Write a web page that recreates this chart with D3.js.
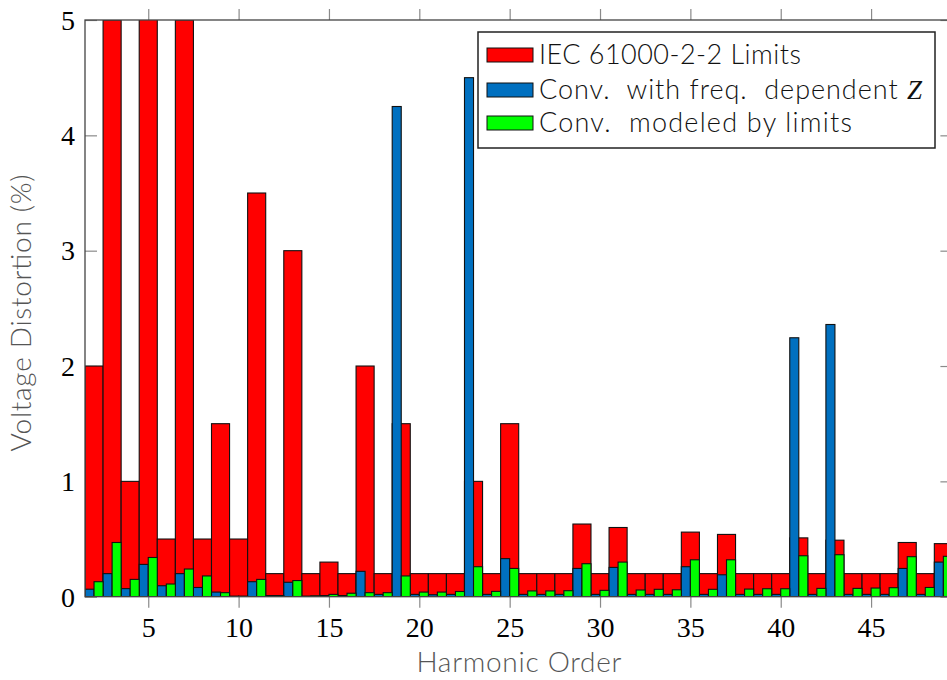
<!DOCTYPE html>
<html>
<head>
<meta charset="utf-8">
<script src="https://cdn.jsdelivr.net/npm/d3@7/dist/d3.min.js"></script>
<style>
  html, body { margin: 0; padding: 0; background: #fff; overflow: hidden; }
  svg { display: block; }
</style>
</head>
<body>
<svg id="chart" width="947" height="680"></svg>
<script>
// Harmonic orders shown on the x axis
const harmonics = [2, 3, 4, 5, 6, 7, 8, 9, 10, 11, 12, 13, 14, 15, 16, 17, 18, 19, 20, 21,
  22, 23, 24, 25, 26, 27, 28, 29, 30, 31, 32, 33, 34, 35, 36, 37, 38, 39, 40, 41,
  42, 43, 44, 45, 46, 47, 48, 49];

// IEC 61000-2-2 compatibility levels (%)
const limitValues = [2, 5, 1, 6, 0.5, 5, 0.5, 1.5, 0.5, 3.5, 0.2, 3, 0.2, 0.3, 0.2, 2, 0.2, 1.5, 0.2, 0.2,
  0.2, 1.0, 0.2, 1.5, 0.2, 0.2, 0.2, 0.63, 0.2, 0.6, 0.2, 0.2, 0.2, 0.56, 0.2, 0.54, 0.2, 0.2, 0.2, 0.51,
  0.2, 0.49, 0.2, 0.2, 0.2, 0.47, 0.2, 0.46];

// Converter with frequency-dependent impedance (%)
const freqDepValues = [0.065, 0.2, 0.07, 0.28, 0.095, 0.2, 0.08, 0.04, 0.005, 0.13, 0.01, 0.125, 0.005, 0.01, 0.01, 0.22, 0.02, 4.25, 0.02, 0.017,
  0.02, 4.5, 0.02, 0.33, 0.02, 0.02, 0.02, 0.245, 0.02, 0.254, 0.02, 0.02, 0.02, 0.26, 0.02, 0.19, 0.02, 0.02, 0.02, 2.245,
  0.02, 2.36, 0.02, 0.02, 0.02, 0.245, 0.02, 0.3];

// Converter modeled by limits (%)
const limitModelValues = [0.13, 0.47, 0.15, 0.34, 0.11, 0.24, 0.18, 0.035, 0.005, 0.15, 0.01, 0.14, 0.008, 0.02, 0.03, 0.035, 0.035, 0.18, 0.04, 0.04,
  0.045, 0.26, 0.046, 0.245, 0.05, 0.05, 0.052, 0.286, 0.055, 0.30, 0.058, 0.064, 0.06, 0.32, 0.064, 0.32, 0.066, 0.069, 0.069, 0.355,
  0.072, 0.364, 0.072, 0.075, 0.078, 0.347, 0.08, 0.35];

const xTicks = [5, 10, 15, 20, 25, 30, 35, 40, 45];
const yTicks = [0, 1, 2, 3, 4, 5];

const seriesNames = ["IEC 61000-2-2 Limits", "Conv.  with freq.  dependent ", "Conv.  modeled by limits"];
const seriesColors = ["#ff0000", "#0070c0", "#00ff00"];

const svg = d3.select("#chart");
const plotLeft = 85, plotRight = 952.4, plotTop = 20, plotBottom = 596.7;

const x = d3.scaleLinear().domain([1.5, 49.5]).range([plotLeft, plotRight]);
const y = d3.scaleLinear().domain([0, 5]).range([plotBottom, plotTop]);

svg.append("defs").append("clipPath").attr("id", "plotClip")
  .append("rect").attr("x", plotLeft).attr("y", plotTop)
  .attr("width", plotRight - plotLeft).attr("height", plotBottom - plotTop);

const tickColor = "#8a8a8a";
const axisColor = "#444";

// Outward x ticks (bottom and top)
const xBottom = svg.append("g").attr("transform", `translate(0,${plotBottom})`)
  .call(d3.axisBottom(x).tickValues(xTicks).tickSize(11).tickSizeOuter(0).tickFormat(d3.format("d")));
xBottom.select(".domain").remove();
xBottom.selectAll(".tick line").attr("stroke", tickColor).attr("stroke-width", 1.2);
xBottom.selectAll(".tick text")
  .attr("fill", "#000").attr("font-family", "'Liberation Serif', 'DejaVu Serif', serif")
  .attr("font-size", 28).attr("dy", "0").attr("y", 40);

const xTop = svg.append("g").attr("transform", `translate(0,${plotTop})`)
  .call(d3.axisTop(x).tickValues(xTicks).tickSize(11).tickSizeOuter(0).tickFormat(""));
xTop.select(".domain").remove();
xTop.selectAll(".tick line").attr("stroke", tickColor).attr("stroke-width", 1.2);

// Inward y ticks (left and right)
const yLeft = svg.append("g").attr("transform", `translate(${plotLeft},0)`)
  .call(d3.axisRight(y).tickValues(yTicks).tickSize(12).tickSizeOuter(0).tickFormat(""));
yLeft.select(".domain").remove();
yLeft.selectAll(".tick line").attr("stroke", tickColor).attr("stroke-width", 1.2);

const yRight = svg.append("g").attr("transform", `translate(${plotRight},0)`)
  .call(d3.axisLeft(y).tickValues(yTicks).tickSize(12).tickSizeOuter(0).tickFormat(""));
yRight.select(".domain").remove();
yRight.selectAll(".tick line").attr("stroke", tickColor).attr("stroke-width", 1.2);

// y tick labels
svg.append("g").selectAll("text").data(yTicks).join("text")
  .attr("x", plotLeft - 10).attr("y", d => y(d)).attr("dy", "0.35em")
  .attr("text-anchor", "end")
  .attr("font-family", "'Liberation Serif', 'DejaVu Serif', serif")
  .attr("font-size", 28).attr("fill", "#000")
  .text(d => d);

// Bars
const plot = svg.append("g").attr("clip-path", "url(#plotClip)");
const barStroke = "#111";

plot.append("g").selectAll("rect").data(harmonics).join("rect")
  .attr("x", d => x(d - 0.5))
  .attr("width", d => x(d + 0.5) - x(d - 0.5))
  .attr("y", (d, i) => y(limitValues[i]))
  .attr("height", (d, i) => y(0) - y(limitValues[i]))
  .attr("fill", seriesColors[0]).attr("stroke", barStroke).attr("stroke-width", 1.1);

plot.append("g").selectAll("rect").data(harmonics).join("rect")
  .attr("x", d => x(d - 0.5))
  .attr("width", d => x(d) - x(d - 0.5))
  .attr("y", (d, i) => y(freqDepValues[i]))
  .attr("height", (d, i) => y(0) - y(freqDepValues[i]))
  .attr("fill", seriesColors[1]).attr("stroke", barStroke).attr("stroke-width", 1.1);

plot.append("g").selectAll("rect").data(harmonics).join("rect")
  .attr("x", d => x(d))
  .attr("width", d => x(d + 0.5) - x(d))
  .attr("y", (d, i) => y(limitModelValues[i]))
  .attr("height", (d, i) => y(0) - y(limitModelValues[i]))
  .attr("fill", seriesColors[2]).attr("stroke", barStroke).attr("stroke-width", 1.1);

// Axis frame
svg.append("rect")
  .attr("x", plotLeft).attr("y", plotTop)
  .attr("width", plotRight - plotLeft).attr("height", plotBottom - plotTop)
  .attr("fill", "none").attr("stroke", axisColor).attr("stroke-width", 1.3);

// Axis labels
const labelFont = "Lato, 'Open Sans', 'Noto Sans', sans-serif";
svg.append("text")
  .attr("x", 519).attr("y", 672)
  .attr("text-anchor", "middle")
  .attr("font-family", labelFont).attr("font-weight", 300)
  .attr("font-size", 28).attr("fill", "#555")
  .attr("textLength", 205).attr("lengthAdjust", "spacing")
  .text("Harmonic Order");

svg.append("text")
  .attr("transform", "translate(31,313) rotate(-90)")
  .attr("text-anchor", "middle")
  .attr("font-family", labelFont).attr("font-weight", 300)
  .attr("font-size", 28).attr("fill", "#555")
  .attr("textLength", 277).attr("lengthAdjust", "spacing")
  .text("Voltage Distortion (%)");

// Legend
const legend = svg.append("g");
legend.append("rect")
  .attr("x", 478).attr("y", 32).attr("width", 457).attr("height", 116)
  .attr("fill", "#fff").attr("stroke", "#222").attr("stroke-width", 1.5);

const rowY = [55, 90, 123];
const rowLength = [262, 383, 313];
seriesNames.forEach((name, i) => {
  legend.append("rect")
    .attr("x", 487).attr("y", rowY[i] - 7).attr("width", 46).attr("height", 14)
    .attr("fill", seriesColors[i]).attr("stroke", "#111").attr("stroke-width", 1);
  const t = legend.append("text")
    .attr("x", 539).attr("y", rowY[i]).attr("dy", "0.35em")
    .attr("font-family", labelFont).attr("font-weight", 300)
    .attr("font-size", 27).attr("fill", "#111")
    .attr("xml:space", "preserve")
    .attr("textLength", rowLength[i]).attr("lengthAdjust", "spacing")
    .text(name);
  if (i === 1) {
    t.append("tspan")
      .attr("font-family", "'Liberation Serif', 'DejaVu Serif', serif")
      .attr("font-style", "italic").attr("font-weight", 400)
      .text("Z");
  }
});
</script>
</body>
</html>
